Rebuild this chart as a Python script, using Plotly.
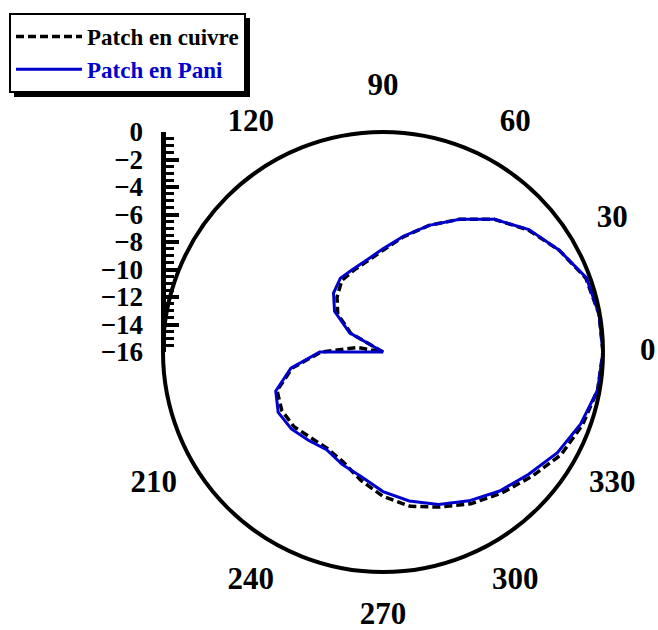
import plotly.graph_objects as go

# Radiation pattern, gain in dB every 10 degrees (closed at 360)
angles = [0, 10, 20, 30, 40, 50, 60, 70, 80, 90, 100, 110, 120, 130, 140, 150, 160, 170,
          180, 190, 200, 210, 220, 230, 240, 250, 260, 270, 280, 290, 300, 310, 320, 330,
          340, 350, 360]

gain_cuivre = [0.0, -0.05, -0.3, -1.2, -2.2, -3.4, -4.85, -6.2, -7.5, -8.6, -9.3, -9.7,
               -10.0, -10.8, -11.7, -13.3, -16.0, -14.1, -11.5, -9.3, -7.8, -7.5, -7.55,
               -7.85, -7.9, -7.5, -6.55, -5.5, -4.6, -4.0, -3.25, -2.6, -1.9, -1.05, -0.55,
               -0.15, 0.0]

gain_pani = [0.0, -0.05, -0.25, -1.2, -2.15, -3.4, -4.85, -6.2, -7.45, -8.5, -9.2, -9.6,
             -9.8, -10.4, -11.4, -13.2, -16.0, -16.0, -11.4, -9.2, -7.7, -7.2, -7.3,
             -7.6, -7.8, -7.3, -6.8, -5.85, -5.0, -4.2, -3.5, -2.8, -2.17, -1.35, -0.7,
             -0.15, 0.0]

# angle labels around the ring (150 and 180 are left out, beside the dB scale)
angle_ticks = [0, 30, 60, 90, 120, 210, 240, 270, 300, 330]

r_min, r_max = -16, 0
label_offset = 3.25                 # dB beyond the outer ring where angle labels sit
serif = "Liberation Serif"

W, H = 658, 630
cx, cy, R = 383, 352, 220          # plot circle centre and radius, in pixels


def square_domain(radius):
    return dict(x=[(cx - radius) / W, (cx + radius) / W],
                y=[1 - (cy + radius) / H, 1 - (cy - radius) / H])


plot_dom = square_domain(R)
label_dom = square_domain(R * (r_max + label_offset - r_min) / (r_max - r_min))

fig = go.Figure()

fig.add_trace(go.Scatterpolar(
    r=gain_cuivre, theta=angles, mode="lines", name="Patch en cuivre",
    line=dict(color="black", width=3.5, dash="8px,4px"), subplot="polar3",
))
fig.add_trace(go.Scatterpolar(
    r=gain_pani, theta=angles, mode="lines",
    name="<span style='color:#0000CC'>Patch en Pani</span>",
    line=dict(color="#0000CC", width=3), subplot="polar3",
))
# angle labels on a wider, invisible ring
fig.add_trace(go.Scatterpolar(
    r=[r_max + label_offset] * len(angle_ticks), theta=angle_ticks,
    text=[str(a) for a in angle_ticks], mode="text", textposition="middle center",
    textfont=dict(family=serif, size=31, color="black", weight="bold"),
    cliponaxis=False, showlegend=False, hoverinfo="skip", subplot="polar4",
))
# carrier for the vertical dB scale on the left
fig.add_trace(go.Scatter(x=[None], y=[None], xaxis="x", yaxis="y",
                         showlegend=False, hoverinfo="skip"))

hidden_radial = dict(range=[r_min, r_max], visible=False, showgrid=False)

fig.update_layout(
    width=W, height=H, margin=dict(l=0, r=0, t=0, b=0, autoexpand=False),
    paper_bgcolor="white", plot_bgcolor="rgba(0,0,0,0)",
    font=dict(family=serif, color="black"),
    showlegend=True,
    # horizontal reference line (grey)
    polar=dict(
        domain=plot_dom, bgcolor="rgba(0,0,0,0)",
        radialaxis=hidden_radial,
        angularaxis=dict(rotation=0, direction="counterclockwise",
                         tickvals=[0, 180], showticklabels=False, ticks="",
                         showgrid=True, gridcolor="#808080", gridwidth=1.3,
                         showline=False),
    ),
    # vertical reference line (black)
    polar2=dict(
        domain=plot_dom, bgcolor="rgba(0,0,0,0)",
        radialaxis=hidden_radial,
        angularaxis=dict(rotation=0, direction="counterclockwise",
                         tickvals=[90, 270], showticklabels=False, ticks="",
                         showgrid=True, gridcolor="black", gridwidth=1,
                         showline=False),
    ),
    # curves and outer circle
    polar3=dict(
        domain=plot_dom, bgcolor="rgba(0,0,0,0)",
        radialaxis=hidden_radial,
        angularaxis=dict(rotation=0, direction="counterclockwise",
                         showticklabels=False, ticks="",
                         showgrid=False, showline=True, linecolor="black", linewidth=4),
    ),
    # ring carrying the angle labels
    polar4=dict(
        domain=label_dom, bgcolor="rgba(0,0,0,0)",
        radialaxis=dict(range=[r_min, r_max + label_offset], visible=False, showgrid=False),
        angularaxis=dict(rotation=0, direction="counterclockwise",
                         showticklabels=False, ticks="", showgrid=False, showline=False),
    ),
    xaxis=dict(domain=[0, 1], range=[0, 1], visible=False, automargin=False),
    yaxis=dict(
        domain=[1 - cy / H, 1 - (cy - R) / H], range=[r_min, r_max],
        anchor="free", position=162.5 / W, side="left", automargin=False,
        showline=True, linecolor="black", linewidth=5,
        ticks="inside", ticklen=13, tickwidth=4, tickcolor="black", dtick=2,
        minor=dict(dtick=0.5, ticks="inside", ticklen=8, tickwidth=3, tickcolor="black"),
        showgrid=False, zeroline=False, ticklabelstandoff=12,
        tickfont=dict(family=serif, size=27, color="black", weight="bold"),
    ),
    legend=dict(
        x=9 / W, y=1 - 13 / H, xanchor="left", yanchor="top",
        bgcolor="white", bordercolor="black", borderwidth=2,
        font=dict(family=serif, size=23, color="black", weight="bold"),
        itemwidth=66, tracegroupgap=0,
    ),
    # drop shadow behind the legend box
    shapes=[dict(type="rect", xref="paper", yref="paper", layer="below",
                 x0=14 / W, x1=250 / W, y0=1 - 97 / H, y1=1 - 18 / H,
                 fillcolor="black", line=dict(width=0))],
)

fig.write_html("out.html")
